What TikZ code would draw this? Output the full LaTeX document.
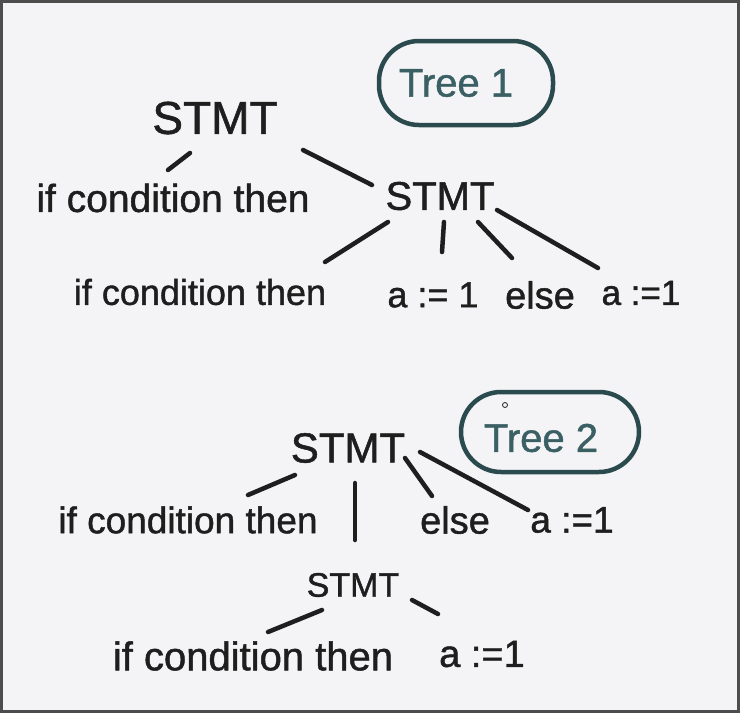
\documentclass[tikz,border=0pt]{standalone}
\usepackage{fontspec}
\setmainfont{Liberation Sans}[FakeBold=1.2]
\usetikzlibrary{calc,shapes.geometric}
\definecolor{bg}{HTML}{F4F4F6}
\definecolor{ink}{HTML}{1E1E1E}
\definecolor{teal}{HTML}{2B4A4E}
\definecolor{tealtext}{HTML}{3A6064}
\definecolor{frame}{HTML}{4D4D4D}
\newcommand{\fs}[1]{\fontsize{#1}{#1}\selectfont}
\begin{document}
\begin{tikzpicture}[x=1pt,y=-1pt,
  lbl/.style={text=ink,inner sep=0pt,anchor=center},
  edge/.style={draw=ink,line width=4.5pt,line cap=round},
  tag/.style={draw=teal,line width=4.5pt,text=tealtext,inner sep=0pt}]
\fill[bg] (0,0) rectangle (740,713);
\draw[frame,line width=3pt] (1.5,1.5) rectangle (738.5,711.5);
\useasboundingbox (0,0) rectangle (740,713);
% ---------- Tree 1 ----------
\node[tag,rounded corners=40pt,minimum width=174pt,minimum height=84pt] (t1) at (466,83) {};
\node[lbl,text=tealtext] (t1t) at (456,83) {\fs{40}Tree 1};
\node[lbl] (s1) at (215,118) {\fs{46}STMT};
\node[lbl] (c1) at (173,198) {\fs{39}if condition then};
\node[lbl] (s2) at (440,196) {\fs{40}STMT};
\node[lbl] (c2) at (200,292) {\fs{36}if condition then};
\node[lbl] (a1) at (433,295) {\fs{36}a := 1};
\node[lbl] (el1) at (540,295) {\fs{38}else};
\node[lbl] (a2) at (641,293) {\fs{35}a :=1};
\draw[edge] ($(s1)+(-25,35)$) -- ($(c1)+(-5,-28)$);
\draw[edge] ($(s1)+(88,32)$) -- ($(s2)+(-68,-11)$);
\draw[edge] ($(s2)+(-52,26)$) -- ($(c2)+(125,-30)$);
\draw[edge] ($(s2)+(4,26)$) -- ($(a1)+(9,-43)$);
\draw[edge] ($(s2)+(38,26)$) -- ($(el1)+(-28,-37)$);
\draw[edge] ($(s2)+(57,14)$) -- ($(a2)+(-43,-25)$);
% ---------- Tree 2 ----------
\node[tag,rounded corners=40pt,minimum width=178pt,minimum height=80pt] (t2) at (550,432) {};
\node[lbl,text=tealtext] (t2t) at (541,438) {\fs{40}Tree 2};
\node[draw=ink,circle,inner sep=0pt,minimum size=5pt,line width=0.8pt] (cur) at (505,405) {};
\node[lbl] (s3) at (348,448) {\fs{42}STMT};
\node[lbl] (c3) at (188,520) {\fs{37}if condition then};
\node[lbl] (el2) at (455,520) {\fs{38}else};
\node[lbl] (a3) at (572,520) {\fs{37}a :=1};
\node[lbl] (s4) at (353,585) {\fs{34}STMT};
\node[lbl] (c4) at (253,656) {\fs{40}if condition then};
\node[lbl] (a4) at (482,654) {\fs{38}a :=1};
\draw[edge] ($(s3)+(-53,27)$) -- ($(c3)+(60,-25)$);
\draw[edge] ($(s3)+(7,35)$) -- ($(s4)+(2,-45)$);
\draw[edge] ($(s3)+(57,10)$) -- ($(el2)+(-23,-24)$);
\draw[edge] ($(s3)+(72,4)$) -- ($(a3)+(-44,-10)$);
\draw[edge] ($(s4)+(-31,25)$) -- ($(c4)+(15,-24)$);
\draw[edge] ($(s4)+(59,15)$) -- ($(a4)+(-44,-40)$);
\end{tikzpicture}
\end{document}
